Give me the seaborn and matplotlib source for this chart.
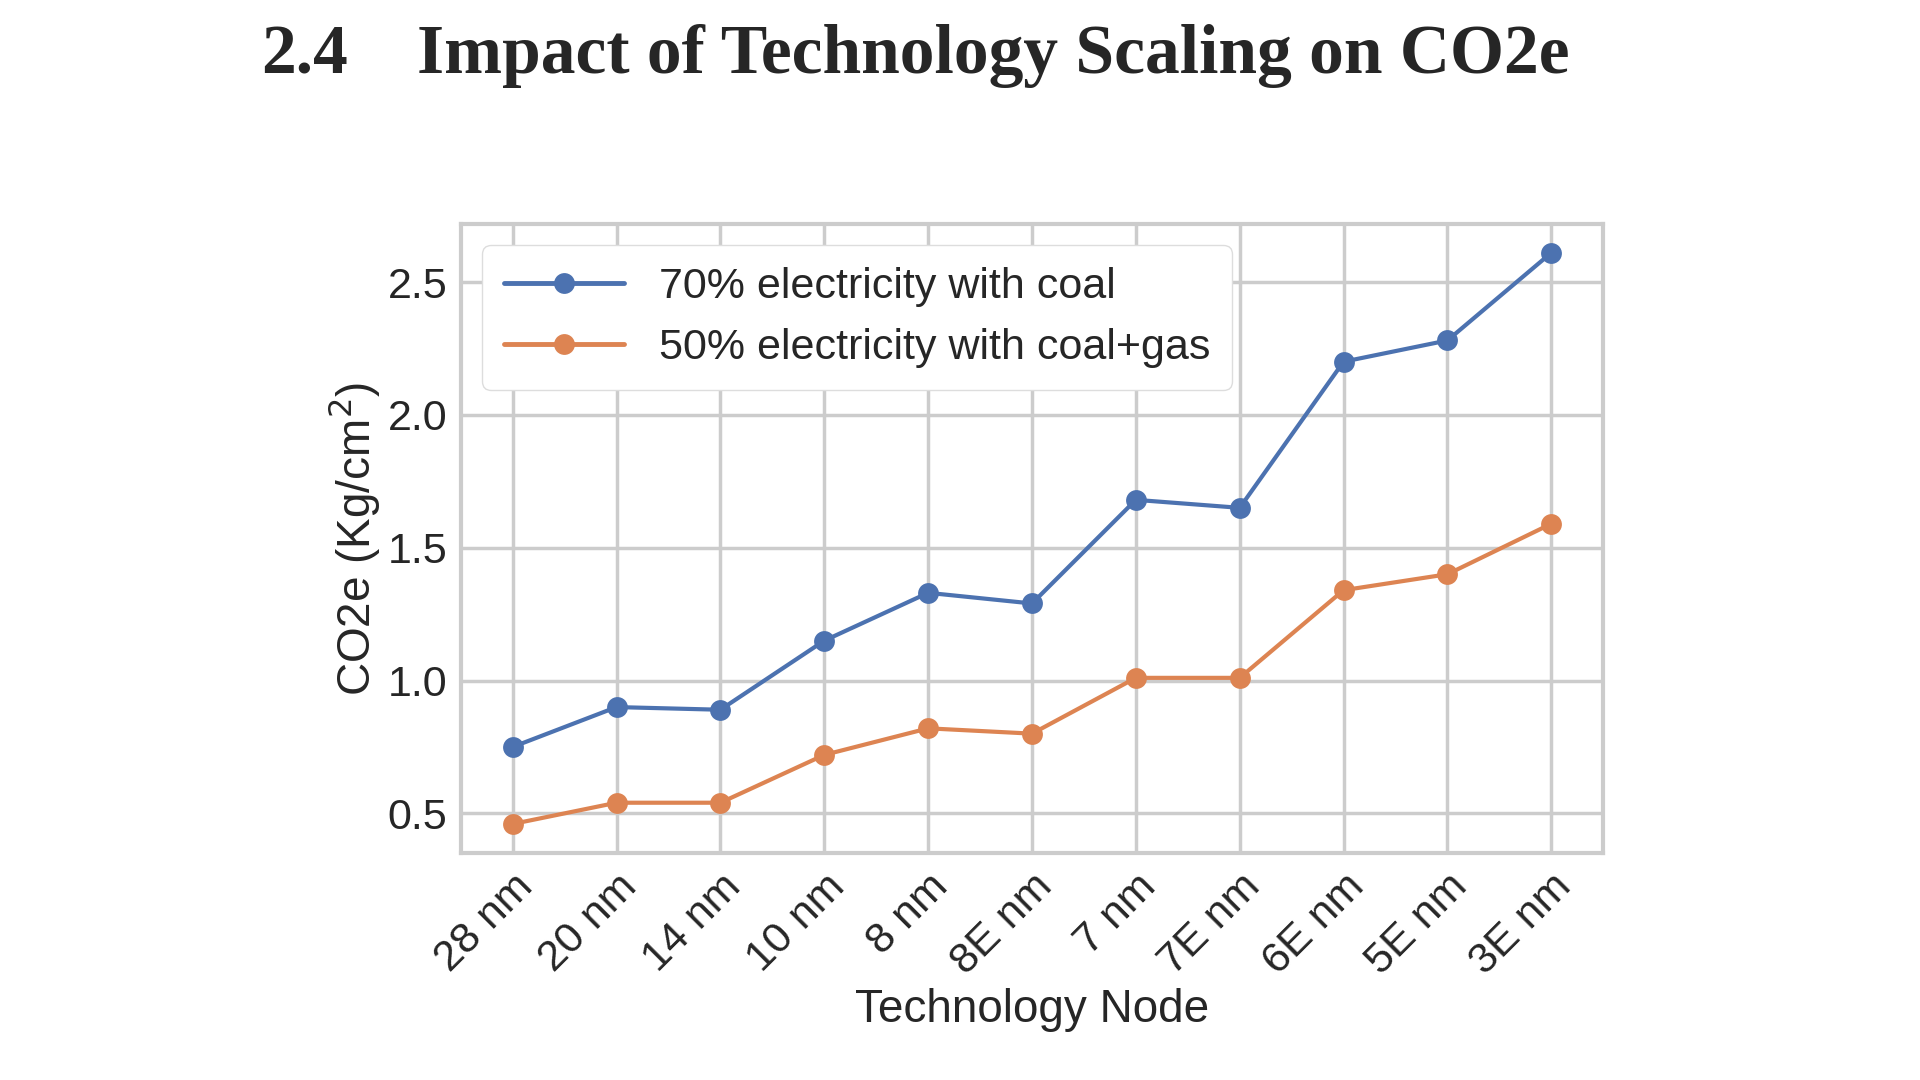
import pandas as pd
import seaborn as sns
import matplotlib.pyplot as plt

nodes = ['28 nm', '20 nm', '14 nm', '10 nm', '8 nm', '8E nm', '7 nm', '7E nm', '6E nm', '5E nm', '3E nm']
coal = [0.75, 0.90, 0.89, 1.15, 1.33, 1.29, 1.68, 1.65, 2.20, 2.28, 2.61]
coal_gas = [0.46, 0.54, 0.54, 0.72, 0.82, 0.80, 1.01, 1.01, 1.34, 1.40, 1.59]
labels = ['70% electricity with coal', '50% electricity with coal+gas']

df = pd.DataFrame({'node': nodes * 2,
                   'co2': coal + coal_gas,
                   'series': [labels[0]] * len(nodes) + [labels[1]] * len(nodes)})

sns.set_theme(style='whitegrid', palette='deep')
plt.rcParams['font.family'] = ['Arial', 'Liberation Sans', 'DejaVu Sans']

fig = plt.figure(figsize=(19.2, 10.8), dpi=100)
ax = fig.add_axes([0.24, 0.21, 0.595, 0.583])
sns.lineplot(data=df, x='node', y='co2', hue='series', marker='o', markersize=15,
             markeredgewidth=0, linewidth=3, sort=False, ax=ax)

ax.set_ylim(0.35, 2.72)
ax.set_xlim(-0.5, 10.5)
ax.set_yticks([0.5, 1.0, 1.5, 2.0, 2.5])
ax.tick_params(labelsize=31)
plt.setp(ax.get_xticklabels(), rotation=45, ha='right', rotation_mode='anchor')
ax.set_xlabel('Technology Node', fontsize=33)
ax.set_ylabel('CO2e (Kg/cm$^2$)', fontsize=33)
ax.grid(color='#cccccc', linewidth=2.5)
for s in ax.spines.values():
    s.set_color('#cccccc')
    s.set_linewidth(3)
leg = ax.legend(title=None, fontsize=31, loc='upper left', framealpha=1, edgecolor='#dddddd',
                borderpad=0.5, handlelength=2.8)
for h in leg.get_lines():
    h.set_linewidth(3.5)

fig.text(0.136, 0.948, '2.4', fontsize=50, fontweight='bold', family='Liberation Serif', va='center')
fig.text(0.217, 0.948, 'Impact of Technology Scaling on CO2e', fontsize=50, fontweight='bold',
         family='Liberation Serif', va='center')

fig.savefig('out.png', dpi=100)
